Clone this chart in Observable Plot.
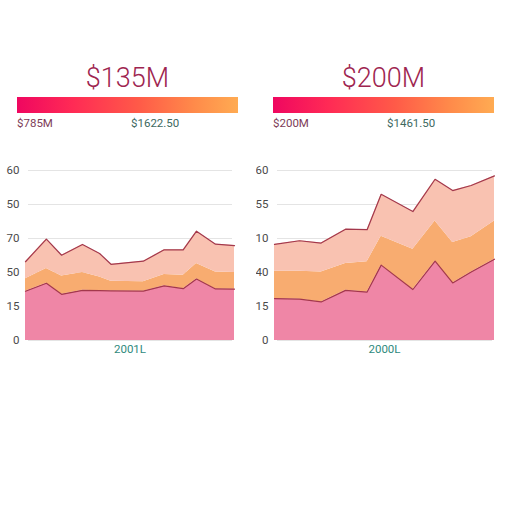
<!DOCTYPE html>
<html><head><meta charset="utf-8">
<script src="https://cdn.jsdelivr.net/npm/d3@7"></script>
<script src="https://cdn.jsdelivr.net/npm/@observablehq/plot@0.6"></script>
<style>
body{margin:0;background:#fff;font-family:Roboto,"Liberation Sans",sans-serif;}
#wrap{position:relative;width:512px;height:512px;}
.title{position:absolute;top:62px;font-size:27px;font-weight:300;color:#9e2550;text-align:center;width:221px;}
.bar{position:absolute;top:97px;height:16px;width:221px;background:linear-gradient(90deg,#ef0760 0%,#ff2a55 25%,#ff5a48 55%,#ff8a4a 80%,#ffab52 100%);}
.lab{position:absolute;top:116px;font-size:11.5px;}
.chart{position:absolute;top:160px;}
</style></head><body>
<div id="wrap"></div>
<script>
// ---- data ----
const titles = ["$135M", "$200M"];
const lowLabels = ["$785M", "$200M"];
const midLabels = ["$1622.50", "$1461.50"];
const xLabels = ["2001L", "2000L"];
const yTickValues = [0, 12, 24, 36, 48, 60];
const yTickLabelsLeft = ["0", "15", "50", "70", "50", "60"];
const yTickLabelsRight = ["0", "15", "40", "10", "55", "60"];
const seriesNames = ["Base", "Mid", "Top"];

// left panel
const leftX = [0, 1.1, 1.9, 3.0, 3.9, 4.5, 6.2, 7.3, 8.3, 9.0, 10.0, 11];
const leftBase = [17.4, 20.2, 16.3, 17.7, 17.6, 17.5, 17.4, 19.3, 18.3, 21.7, 18.2, 18.1];
const leftMid = [4.4, 5.2, 6.5, 6.3, 4.8, 3.4, 3.3, 4.0, 4.7, 5.5, 6.0, 5.9];
const leftTop = [6.0, 10.4, 7.3, 9.9, 8.3, 6.0, 7.3, 8.7, 9.0, 11.4, 9.8, 9.5];

// right panel
const rightX = [0, 1.14, 2.12, 3.23, 4.21, 4.85, 6.29, 7.3, 8.1, 8.94, 10];
const rightBase = [14.8, 14.6, 13.6, 17.7, 17.1, 26.6, 18.0, 28.0, 20.3, 24.2, 28.7];
const rightMid = [9.6, 9.8, 10.6, 9.5, 10.7, 10.2, 14.2, 14.2, 14.3, 12.4, 13.5];
const rightTop = [9.5, 10.8, 10.2, 12.1, 11.3, 14.8, 13.3, 14.7, 18.3, 18.1, 15.9];

const colors = ["#ef86a6", "#f8ac70", "#f9c2b1"];
const wrap = document.getElementById("wrap");

function table(xs, a, b, c) {
  const rows = [];
  xs.forEach((x, i) => {
    rows.push({x, series: seriesNames[0], v: a[i]});
    rows.push({x, series: seriesNames[1], v: b[i]});
    rows.push({x, series: seriesNames[2], v: c[i]});
  });
  return rows;
}

function panel(idx, left, xs, a, b, c, tickLabels, mL, mR, xDomain) {
  const t = document.createElement("div");
  t.className = "title"; t.style.left = (left + 17) + "px"; t.textContent = titles[idx];
  wrap.appendChild(t);
  const bar = document.createElement("div");
  bar.className = "bar"; bar.style.left = (left + 17) + "px";
  wrap.appendChild(bar);
  const l1 = document.createElement("div");
  l1.className = "lab"; l1.style.left = (left + 17) + "px"; l1.style.color = "#7d3c57"; l1.textContent = lowLabels[idx];
  wrap.appendChild(l1);
  const l2 = document.createElement("div");
  l2.className = "lab"; l2.style.left = (left + 131) + "px"; l2.style.color = "#40695f"; l2.textContent = midLabels[idx];
  wrap.appendChild(l2);

  const data = table(xs, a, b, c);
  const stackOpts = {x: "x", y: "v", z: "series", order: seriesNames};
  const chart = Plot.plot({
    width: 250, height: 200,
    marginTop: 10, marginBottom: 20, marginLeft: mL, marginRight: mR,
    style: {fontFamily: "Roboto, 'Liberation Sans', sans-serif", fontSize: "11.5px", color: "#555", background: "transparent"},
    x: {domain: xDomain, axis: null},
    y: {domain: [0, 60], axis: null},
    color: {domain: seriesNames, range: colors},
    opacity: {type: "identity"},
    marks: [
      Plot.gridY(yTickValues, {stroke: "#e4e4e4", strokeOpacity: 1, strokeWidth: 1, insetLeft: 3, insetRight: 2}),
      Plot.areaY(data, {...stackOpts, fill: "series", fillOpacity: 1}),
      Plot.lineY(data, Plot.stackY2({...stackOpts, stroke: "#a3384c", strokeWidth: 1.2,
        strokeOpacity: d => d.series === seriesNames[1] ? 0 : 1})),
      Plot.axisY(yTickValues, {tickSize: 0, tickPadding: 6, label: null, tickFormat: (d, i) => tickLabels[i], fill: "#4a4a4a"}),
      Plot.text([xLabels[idx]], {frameAnchor: "bottom", dy: 12, text: d => d, fill: "#2f8a7d", fontSize: 11.5})
    ]
  });
  chart.classList.add("chart");
  chart.style.left = left + "px";
  wrap.appendChild(chart);
}

panel(0, 0, leftX, leftBase, leftMid, leftTop, yTickLabelsLeft, 25, 16, [0, 11]);
panel(1, 256, rightX, rightBase, rightMid, rightTop, yTickLabelsRight, 18, 12, [0, 10]);
</script>
</body></html>
